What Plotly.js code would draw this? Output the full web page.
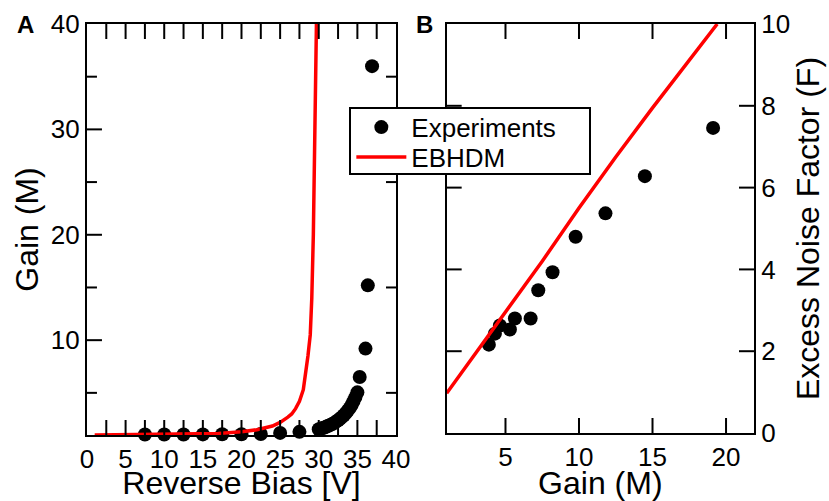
<!DOCTYPE html>
<html><head><meta charset="utf-8">
<script src="https://cdn.plot.ly/plotly-3.0.1.min.js"></script>
<style>html,body{margin:0;padding:0;background:#fff}#chart{width:829px;height:501px}</style>
</head><body><div id="chart"></div>
<script>
// Panel A: Gain vs reverse bias
const biasExp = [7.5, 10, 12.5, 15, 17.5, 20, 22.5, 25, 27.5,
  30.0, 30.25, 30.5, 30.75, 31.0, 31.25, 31.5, 31.75, 32.0, 32.25, 32.5, 32.75,
  33.0, 33.25, 33.5, 33.75, 34.0, 34.25, 34.5, 34.75, 35.0, 35.3, 36.05, 36.35, 36.9];
const gainExp = [1.05, 1.05, 1.05, 1.06, 1.07, 1.08, 1.1, 1.2, 1.3,
  1.55, 1.6, 1.66, 1.72, 1.8, 1.88, 1.96, 2.05, 2.15, 2.27, 2.4, 2.55,
  2.7, 2.88, 3.08, 3.3, 3.55, 3.85, 4.2, 4.6, 5.05, 6.5, 9.2, 15.2, 36.0];
const biasModel = [1, 5, 10, 15, 17, 20, 22, 24, 25, 26, 26.5, 27, 27.5, 28, 28.3, 28.6, 28.9, 29.1, 29.3, 29.5, 29.7];
const gainModel = [1.0, 1.02, 1.05, 1.1, 1.15, 1.3, 1.5, 1.85, 2.2, 2.7, 3.0, 3.5, 4.2, 5.3, 6.8, 8.5, 10.5, 14, 20, 30, 40];

// Panel B: Excess noise factor vs gain
const gainNoiseExp = [3.87, 4.28, 4.62, 5.3, 5.64, 6.71, 7.23, 8.2, 9.77, 11.8, 14.48, 19.12];
const noiseExp = [2.16, 2.43, 2.63, 2.53, 2.8, 2.8, 3.49, 3.93, 4.8, 5.37, 6.28, 7.46];
const gainNoiseModel = [1, 2, 3, 4, 5, 7.5, 10, 12.5, 15, 17.5, 19.4];
const noiseModel = [0.97, 1.47, 1.96, 2.45, 2.95, 4.2, 5.5, 6.75, 7.95, 9.1, 10.0];

// Tick mark positions (axis values)
const biasTicks = [2.5, 5, 7.5, 10, 12.5, 15, 17.5, 20, 22.5, 25, 27.5, 30, 32.5, 35, 37.5];
const gainMajorTicks = [10, 20, 30];
const gainMinorTicks = [5, 15, 25, 35];
const multTicks = [5, 10, 15, 20];
const noiseTicks = [2, 4, 6, 8];

const FONT = 'Liberation Sans, Arial, Helvetica, sans-serif';
const RED = '#ff0000';
const W = 829, H = 501;
const domA = [0.1049, 0.4777], domAy = [0.1317, 0.9521];
const domB = [0.5388, 0.9095], domBy = [0.1357, 0.9521];
const hA = (domAy[1] - domAy[0]) * H, wA = (domA[1] - domA[0]) * W;
const hB = (domBy[1] - domBy[0]) * H, wB = (domB[1] - domB[0]) * W;

const traces = [
  {x: biasExp, y: gainExp, type: 'scatter', mode: 'markers', name: 'Experiments',
   marker: {color: '#000', size: 14}, xaxis: 'x', yaxis: 'y', cliponaxis: false},
  {x: biasModel, y: gainModel, type: 'scatter', mode: 'lines', name: 'EBHDM',
   line: {color: RED, width: 3.5}, xaxis: 'x', yaxis: 'y'},
  {x: gainNoiseExp, y: noiseExp, type: 'scatter', mode: 'markers', name: 'Experiments',
   marker: {color: '#000', size: 14}, xaxis: 'x2', yaxis: 'y2', showlegend: false},
  {x: gainNoiseModel, y: noiseModel, type: 'scatter', mode: 'lines', name: 'EBHDM',
   line: {color: RED, width: 3.5}, xaxis: 'x2', yaxis: 'y2', showlegend: false}
];

// inward tick marks drawn on the axes' own scales
const tickLine = {type: 'line', layer: 'above', line: {color: '#000', width: 2}};
function xTickMarks(vals, xref, yref, len, h, sides) {
  const out = [];
  vals.forEach(v => sides.forEach(s => out.push(Object.assign({}, tickLine, {xref: xref, yref: yref + ' domain',
    x0: v, x1: v, y0: s, y1: s === 0 ? len / h : 1 - len / h}))));
  return out;
}
function yTickMarks(vals, xref, yref, len, w, sides) {
  const out = [];
  vals.forEach(v => sides.forEach(s => out.push(Object.assign({}, tickLine, {xref: xref + ' domain', yref: yref,
    y0: v, y1: v, x0: s, x1: s === 0 ? len / w : 1 - len / w}))));
  return out;
}
const shapes = [].concat(
  xTickMarks(biasTicks, 'x', 'y', 15, hA, [0, 1]),
  yTickMarks(gainMajorTicks, 'x', 'y', 15, wA, [0]),
  yTickMarks(gainMinorTicks, 'x', 'y', 10, wA, [0, 1]),
  xTickMarks(multTicks, 'x2', 'y2', 15, hB, [0, 1]),
  yTickMarks(noiseTicks, 'x2', 'y2', 15, wB, [0, 1])
);

const axBase = {showgrid: false, zeroline: false, showline: true, linecolor: '#000', linewidth: 2,
  ticks: '', tickfont: {family: FONT, size: 26, color: '#000'}};

const layout = {
  width: W, height: H,
  margin: {l: 0, r: 0, t: 0, b: 0},
  paper_bgcolor: '#fff', plot_bgcolor: '#fff',
  font: {family: FONT, color: '#000'},
  showlegend: true,
  legend: {x: 0.4214, y: 0.787, xanchor: 'left', yanchor: 'top', bgcolor: '#fff',
    bordercolor: '#000', borderwidth: 2, font: {family: FONT, size: 26, color: '#000'},
    itemwidth: 50},
  xaxis: Object.assign({}, axBase, {domain: domA, anchor: 'y', range: [0, 40],
    tick0: 0, dtick: 5, mirror: true,
    title: {text: 'Reverse Bias [V]', font: {family: FONT, size: 32, color: '#000'}, standoff: 2}}),
  yaxis: Object.assign({}, axBase, {domain: domAy, anchor: 'x', range: [1, 40],
    tick0: 0, dtick: 10, mirror: true,
    title: {text: 'Gain (M)', font: {family: FONT, size: 32, color: '#000'}, standoff: 3}}),
  xaxis2: Object.assign({}, axBase, {domain: domB, anchor: 'y2', range: [1, 21.9],
    tick0: 0, dtick: 5, mirror: true,
    title: {text: 'Gain (M)', font: {family: FONT, size: 32, color: '#000'}, standoff: 1}}),
  yaxis2: Object.assign({}, axBase, {domain: domBy, anchor: 'x2', side: 'right', range: [0, 10],
    tick0: 0, dtick: 2, mirror: true,
    title: {text: 'Excess Noise Factor (F)', font: {family: FONT, size: 32, color: '#000'}, standoff: 8}}),
  shapes: shapes,
  annotations: [
    {text: '<b>A</b>', x: 25, y: 25, xref: 'paper', yref: 'paper', showarrow: false},
    {text: '<b>B</b>', x: 424, y: 25, xref: 'paper', yref: 'paper', showarrow: false}
  ].map(a => Object.assign(a, {x: a.x / W, y: 1 - a.y / H, xanchor: 'center', yanchor: 'middle',
    font: {family: FONT, size: 24, color: '#000'}}))
};

Plotly.newPlot('chart', traces, layout, {displayModeBar: false, staticPlot: true}).then(gd => {
  // tighten legend rows and widen box to match the reference frame
  const items = gd.querySelectorAll('.legend .traces');
  if (items.length === 2) {
    const re = /translate\(\s*([-\d.]+)[ ,]+([-\d.]+)\s*\)/;
    const m0 = re.exec(items[0].getAttribute('transform') || '');
    if (m0) {
      const x0 = parseFloat(m0[1]), y0 = parseFloat(m0[2]) - 5;
      items.forEach((el, i) => el.setAttribute('transform', 'translate(' + x0 + ',' + (y0 + i * 30) + ')'));
    }
  }
  const bg = gd.querySelector('.legend rect.bg');
  if (bg) { bg.setAttribute('width', 240); bg.setAttribute('height', 66); }
});
</script>
</body></html>
